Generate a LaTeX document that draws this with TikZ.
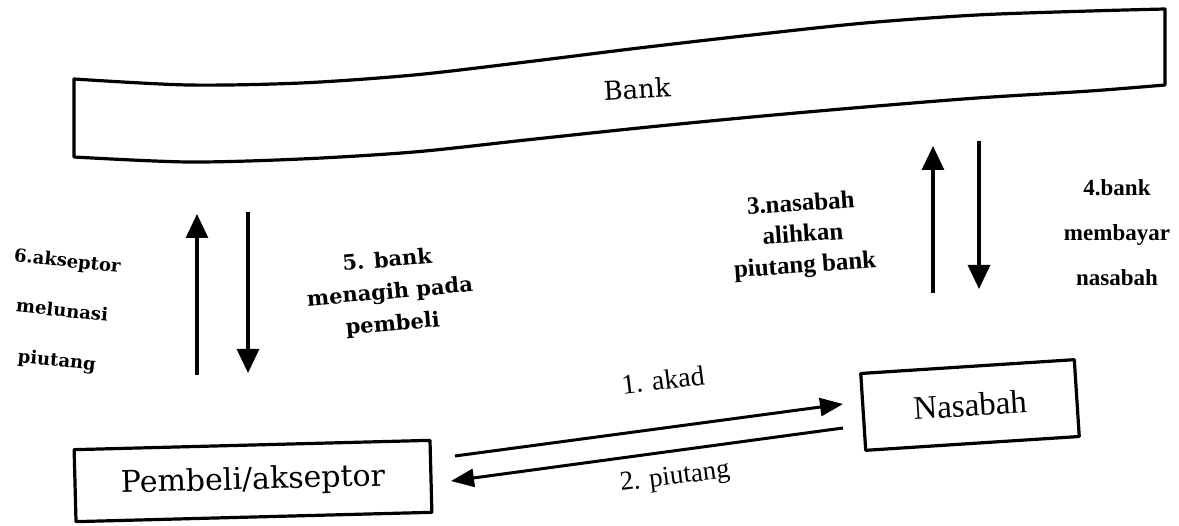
\documentclass[tikz,border=0pt]{standalone}
\usepackage{fontspec}
\usetikzlibrary{arrows.meta}
\newfontfamily\labelserif{DejaVu Serif}
\newfontfamily\romanserif{Liberation Serif}
\tikzset{
  frame/.style={draw=black, line width=3.2pt, line join=round},
  flow/.style={line width=3.2pt, -{Triangle[width=22pt,length=24pt]}},
  sideflow/.style={line width=3pt, -{Triangle[width=18pt,length=23pt]}},
  lbl/.style={inner sep=0pt, align=center},
  partybox/.style={frame, inner sep=0pt, minimum width=#1},
}
\begin{document}
\begin{tikzpicture}[x=1pt,y=-1pt]
\useasboundingbox (0,0) rectangle (1179,526);

% the bank band across the top
\draw[frame]
  plot[smooth] coordinates {(74,79) (188,85) (301,83) (414,75) (526,62) (639,48)
                            (752,35) (865,23) (977,15) (1090,11) (1165,9)}
  -- plot[smooth] coordinates {(1165,85) (1090,91) (977,98) (865,107) (752,117)
                            (639,128) (526,140) (414,152) (301,159) (188,162) (74,157)}
  -- cycle;
\node[lbl, font=\labelserif\fontsize{26}{30}\selectfont, rotate=3] (bank) at (637,89) {Bank};

% the two parties
\node[partybox=356pt, minimum height=72pt, rotate=1.5,
      font=\labelserif\fontsize{30}{34}\selectfont] (buyer) at (253,481) {Pembeli/akseptor};
\node[partybox=214pt, minimum height=77pt, rotate=3.7,
      font=\romanserif\fontsize{33}{36}\selectfont] (client) at (970,405) {Nasabah};

% flows between bank and buyer
\coordinate (p6a) at (197,375); \coordinate (p6b) at (197,214);
\coordinate (p5a) at (248,212); \coordinate (p5b) at (248,373);
\draw[flow] (p6a) -- (p6b);
\draw[flow] (p5a) -- (p5b);

% flows between bank and client
\coordinate (p3a) at (933,293); \coordinate (p3b) at (933,146);
\coordinate (p4a) at (979,141); \coordinate (p4b) at (979,289);
\draw[flow] (p3a) -- (p3b);
\draw[flow] (p4a) -- (p4b);

% flows between buyer and client
\coordinate (p1a) at (455,456); \coordinate (p1b) at (843,404);
\coordinate (p2a) at (843,428); \coordinate (p2b) at (451,481);
\draw[sideflow] (p1a) -- (p1b);
\draw[sideflow] (p2a) -- (p2b);

% step labels
\node[lbl, font=\labelserif\bfseries\fontsize{18}{50}\selectfont, rotate=-6] (l6) at (62,312)
  {6.akseptor\\melunasi\\piutang};
\node[lbl, font=\labelserif\bfseries\fontsize{21}{32}\selectfont, rotate=5] (l5) at (390,293)
  {5. bank\\menagih pada\\pembeli};
\node[lbl, font=\romanserif\bfseries\fontsize{25}{31}\selectfont, rotate=4] (l3) at (803,236)
  {3.nasabah\\alihkan\\piutang bank};
\node[lbl, font=\romanserif\bfseries\fontsize{23}{45}\selectfont] (l4) at (1117,233)
  {4.bank\\membayar\\nasabah};
\node[lbl, font=\romanserif\fontsize{28}{30}\selectfont, rotate=7] (l1) at (663,380) {1. akad};
\node[lbl, font=\romanserif\fontsize{27}{30}\selectfont, rotate=7] (l2) at (675,478) {2. piutang};
\end{tikzpicture}
\end{document}
